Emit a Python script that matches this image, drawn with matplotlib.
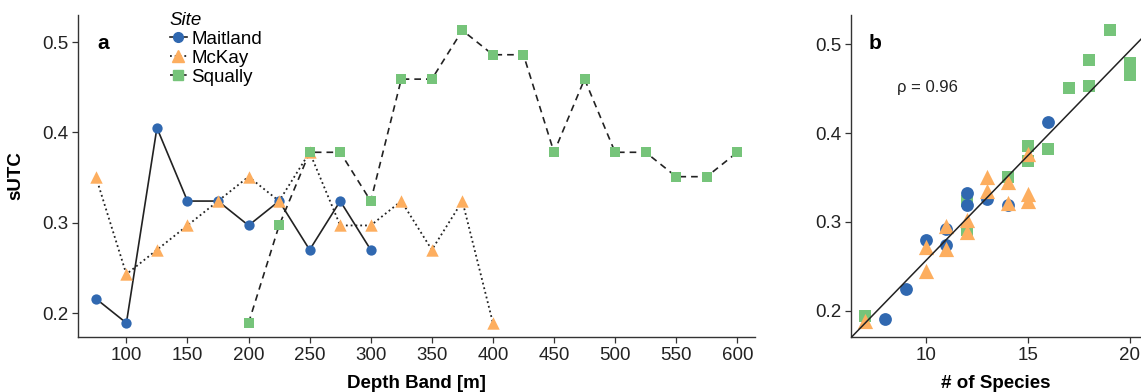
import numpy as np
import matplotlib.pyplot as plt
from matplotlib.lines import Line2D

plt.rcParams['font.family'] = ['Liberation Sans', 'DejaVu Sans']

# panel a: sUTC by depth band for each site
maitland_depth = [75, 100, 125, 150, 175, 200, 225, 250, 275, 300]
maitland_sutc = [0.216, 0.189, 0.405, 0.324, 0.324, 0.297, 0.324, 0.270, 0.324, 0.270]

mckay_depth = [75, 100, 125, 150, 175, 200, 225, 250, 275, 300, 325, 350, 375, 400]
mckay_sutc = [0.351, 0.243, 0.270, 0.297, 0.324, 0.351, 0.324, 0.378, 0.297, 0.297,
              0.324, 0.270, 0.324, 0.189]

squally_depth = [200, 225, 250, 275, 300, 325, 350, 375, 400, 425, 450, 475, 500,
                 525, 550, 575, 600]
squally_sutc = [0.189, 0.297, 0.378, 0.378, 0.324, 0.459, 0.459, 0.513, 0.486, 0.486,
                0.378, 0.459, 0.378, 0.378, 0.351, 0.351, 0.378]

# panel b: sUTC against number of species
maitland_nsp = [8, 9, 10, 11, 11, 12, 12, 13, 14, 16]
maitland_b = [0.191, 0.224, 0.280, 0.292, 0.274, 0.332, 0.319, 0.326, 0.319, 0.412]

mckay_nsp = [7, 10, 10, 11, 11, 12, 12, 13, 13, 14, 14, 15, 15, 15]
mckay_b = [0.188, 0.272, 0.245, 0.295, 0.269, 0.302, 0.289, 0.351, 0.335, 0.345,
           0.321, 0.331, 0.324, 0.377]

squally_nsp = [7, 12, 12, 14, 15, 15, 16, 17, 18, 18, 19, 20, 20]
squally_b = [0.194, 0.324, 0.291, 0.351, 0.386, 0.369, 0.382, 0.451, 0.482, 0.453,
             0.516, 0.479, 0.465]

rho = 0.96

blue = '#3068b0'
orange = '#fdae5f'
green = '#76c47a'
ink = '#222222'

W, H = 1141, 392
fig = plt.figure(figsize=(W / 100, H / 100), dpi=100)

ax1 = fig.add_axes([78 / W, (H - 337) / H, 677 / W, 322 / H])
ax2 = fig.add_axes([851 / W, (H - 337) / H, 290 / W, 322 / H])


def style(ax):
    for s in ['top', 'right']:
        ax.spines[s].set_visible(False)
    for s in ['left', 'bottom']:
        ax.spines[s].set_color('#333333')
        ax.spines[s].set_linewidth(1.0)
    ax.tick_params(direction='out', length=4, width=0.9, color='#333333',
                   labelsize=13.5, labelcolor='#222222', pad=3)


# panel a
ax1.plot(maitland_depth, maitland_sutc, '-', color=ink, lw=1.2, zorder=1)
ax1.plot(mckay_depth, mckay_sutc, ':', color=ink, lw=1.3, zorder=1)
ax1.plot(squally_depth, squally_sutc, '--', color=ink, lw=1.2, dashes=(4, 3), zorder=1)
ax1.scatter(maitland_depth, maitland_sutc, s=55, marker='o', color=blue, zorder=2, lw=0)
ax1.scatter(mckay_depth, mckay_sutc, s=80, marker='^', color=orange, zorder=2, lw=0)
ax1.scatter(squally_depth, squally_sutc, s=50, marker='s', color=green, zorder=2, lw=0)
ax1.set_xlim(60.4, 614.5)
ax1.set_ylim(0.1735, 0.530)
ax1.set_xticks(np.arange(100, 601, 50))
ax1.set_yticks([0.2, 0.3, 0.4, 0.5])
ax1.set_xlabel('Depth Band [m]', fontsize=13.5, fontweight='bold', labelpad=8)
ax1.set_ylabel('sUTC', fontsize=13.5, fontweight='bold', labelpad=13)
ax1.text(0.028, 0.91, 'a', transform=ax1.transAxes, fontsize=15,
         fontweight='bold', va='center')
style(ax1)

handles = [
    Line2D([], [], color=ink, ls='-', lw=1.2, marker='o', markersize=7,
           markerfacecolor=blue, markeredgecolor=blue),
    Line2D([], [], color=ink, ls=':', lw=1.3, marker='^', markersize=8,
           markerfacecolor=orange, markeredgecolor=orange),
    Line2D([], [], color=ink, ls='--', lw=1.2, dashes=(2, 2), marker='s', markersize=7,
           markerfacecolor=green, markeredgecolor=green),
]
leg = fig.legend(handles, ['Maitland', 'McKay', 'Squally'], title='Site',
                 loc='upper left', bbox_to_anchor=(166 / W, 1 - 8 / H), frameon=False,
                 fontsize=13.5, handlelength=0.9, handletextpad=0.25,
                 labelspacing=0.1, borderpad=0.2, borderaxespad=0)
leg.get_title().set_fontstyle('italic')
leg.get_title().set_fontsize(13.5)
leg._legend_box.align = 'left'

# panel b
ax2.scatter(squally_nsp, squally_b, s=75, marker='s', color=green, lw=0, zorder=2)
ax2.scatter(maitland_nsp, maitland_b, s=85, marker='o', color=blue, lw=0, zorder=3)
ax2.scatter(mckay_nsp, mckay_b, s=120, marker='^', color=orange, lw=0, zorder=4)

all_x = np.array(maitland_nsp + mckay_nsp + squally_nsp, dtype=float)
all_y = np.array(maitland_b + mckay_b + squally_b)
slope, intercept = np.polyfit(all_x, all_y, 1)
xx = np.array([6.0, 21.0])
ax2.plot(xx, intercept + slope * xx, color=ink, lw=1.1, zorder=5)

ax2.set_xlim(6.32, 20.54)
ax2.set_ylim(0.1704, 0.533)
ax2.set_xticks([10, 15, 20])
ax2.set_yticks([0.2, 0.3, 0.4, 0.5])
ax2.set_xlabel('# of Species', fontsize=13.5, fontweight='bold', labelpad=8)
ax2.text(0.059, 0.91, 'b', transform=ax2.transAxes, fontsize=15,
         fontweight='bold', va='center')
ax2.text(8.6, 0.451, 'ρ = %.2f' % rho, fontsize=12, va='center', color='#222222')
style(ax2)

fig.savefig('out.png', dpi=100)
